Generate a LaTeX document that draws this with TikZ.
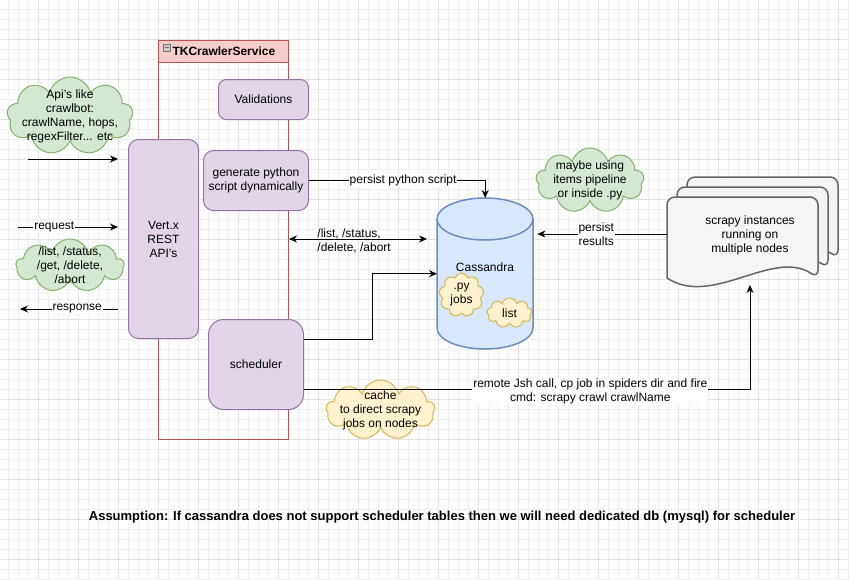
\documentclass[tikz,border=0pt]{standalone}
\usepackage{fontspec}
\setmainfont{Liberation Sans}
\definecolor{boxfill}{HTML}{E1D5E7}
\definecolor{boxline}{HTML}{9673A6}
\definecolor{notefill}{HTML}{D5E8D4}
\definecolor{noteline}{HTML}{82B366}
\definecolor{cachefill}{HTML}{FFF2CC}
\definecolor{cacheline}{HTML}{D6B656}
\definecolor{dbfill}{HTML}{DAE8FC}
\definecolor{dbline}{HTML}{6C8EBF}
\definecolor{svcfill}{HTML}{F8CECC}
\definecolor{svcline}{HTML}{B85450}
\definecolor{docfill}{HTML}{F5F5F5}
\definecolor{docline}{HTML}{666666}
\usetikzlibrary{arrows.meta}
\usetikzlibrary{positioning}
\usetikzlibrary{shapes.symbols}
\tikzset{
    arrow/.style={-{Stealth[length=8pt,width=7pt,inset=2.5pt]}, line width=1pt},
    dblarrow/.style={{Stealth[length=8pt,width=7pt,inset=2.5pt]}-{Stealth[length=8pt,width=7pt,inset=2.5pt]}, line width=1pt},
    box/.style = {
      rectangle,
      rounded corners=10pt,
      draw=boxline,
      fill=boxfill,
      line width=1pt,
      align=center,
      anchor=north west
    },
    note/.style = {
      cloud,
      cloud puffs=9,
      cloud ignores aspect,
      draw=noteline,
      fill=notefill,
      line width=1pt,
      inner sep=0pt
    },
    cachenote/.style = {note, draw=cacheline, fill=cachefill},
    edgelabel/.style = {fill=white, inner sep=1pt, align=center},
    db/.style = {draw=dbline, fill=dbfill, line width=1.5pt},
    doc/.style = {draw=docline, fill=docfill, line width=1.5pt},
    gridminor/.style = {black!6, line width=0.6pt},
    gridmajor/.style = {black!11, line width=0.6pt},
}
\begin{document}
\begin{tikzpicture}[x=1pt, y=-1pt, font=\fontsize{12}{14}\selectfont]
      \fill[white] (0,0) rectangle (849,579);
      \useasboundingbox (0,0) rectangle (849,579);

      % grid
      \foreach \gx in {8,18,...,848} \draw[gridminor] (\gx,0) -- (\gx,579);
      \foreach \gy in {9,19,...,579} \draw[gridminor] (0,\gy) -- (849,\gy);
      \foreach \gx in {38,78,...,838} \draw[gridmajor] (\gx,0) -- (\gx,579);
      \foreach \gy in {39,79,...,559} \draw[gridmajor] (0,\gy) -- (849,\gy);

      % TKCrawlerService container
      \node [
        draw=svcline,
        line width=1pt,
        minimum width=130pt,
        minimum height=377pt,
        anchor=north west,
      ] (servicebody) at (158,62) {};

      \node [
        draw=svcline,
        fill=svcfill,
        line width=1pt,
        minimum width=130pt,
        minimum height=22pt,
        anchor=north west,
        label={[anchor=west, xshift=11pt, font=\fontsize{12}{14}\selectfont\bfseries]west:TKCrawlerService},
      ] (service) at (158,40) {};

      \node [
        draw=black!55,
        fill=black!20,
        line width=0.6pt,
        minimum size=7pt,
        inner sep=0pt,
        path picture={\draw[line width=1pt] ([xshift=1.5pt]path picture bounding box.west) -- ([xshift=-1.5pt]path picture bounding box.east);},
      ] (fold) at (167,47.5) {};

      % boxes
      \node [box, rounded corners=8pt, minimum width=90pt, minimum height=40pt] (validations) at (218,79) {Validations};

      \node [
        box,
        minimum width=105pt,
        minimum height=60pt,
        below=30pt of validations.south east,
        anchor=north east,
      ] (generate) {generate python\\script dynamically};

      \node [box, minimum width=70pt, minimum height=199pt] (vertx) at (128,139) {Vert.x\\REST\\API's};

      \node [box, rounded corners=15pt, minimum width=95pt, minimum height=90pt] (scheduler) at (208,319) {scheduler};

      % Cassandra
      \node [
        minimum width=96pt,
        minimum height=151pt,
        inner sep=0pt,
        anchor=north west,
      ] (cassandra) at (437,198) {};
      \filldraw[db] (437,219) -- (437,328) arc[start angle=180, end angle=360, x radius=48pt, y radius=21pt]
        -- (533,219) arc[start angle=0, end angle=180, x radius=48pt, y radius=21pt] -- cycle;
      \draw[db, fill=none] (437,219) arc[start angle=180, end angle=360, x radius=48pt, y radius=21pt];
      \node (cassandralabel) at (485,267) {Cassandra};

      \node [cachenote, minimum width=45pt, minimum height=44pt,
        label={[align=center]center:.py\\jobs}] (jobs) at (461.5,295) {};
      \node [cachenote, minimum width=45pt, minimum height=30pt,
        label={center:list}] (list) at (509.5,313) {};

      % scrapy instances
      \foreach \d in {20,10,0} {
        \draw[doc] ({667+\d},{278-\d}) [rounded corners=8pt] -- ({667+\d},{197-\d}) -- ({818+\d},{197-\d}) -- ({818+\d},{278-\d})
          [sharp corners] .. controls ({773+\d},{248-\d}) and ({712+\d},{308-\d}) .. ({667+\d},{278-\d}) -- cycle;
      }
      \node [align=center] (scrapy) at (750,235) {scrapy instances\\running on\\multiple nodes};

      % notes
      \node [note, minimum width=126pt, minimum height=78pt,
        label={[align=center]center:Api's like\\crawlbot:\\crawlName, hops,\\regexFilter... etc}] (apinote) at (70,116) {};
      \node [note, minimum width=108pt, minimum height=53pt,
        label={[align=center]center:/list, /status,\\/get, /delete,\\/abort}] (routenote) at (70,265.5) {};
      \node [note, minimum width=108pt, minimum height=65pt,
        label={[align=center]center:maybe using\\items pipeline\\or inside .py}] (pipenote) at (590,180.5) {};
      \node [cachenote, minimum width=109pt, minimum height=60pt,
        label={[align=center]center:cache\\to direct scrapy\\jobs on nodes}] (cachenote) at (380.5,410) {};

      % connectors
      \coordinate (apistart) at (28,159);
      \coordinate (reqstart) at (18,227);
      \coordinate (respend) at (20,309);
      \coordinate (listrow) at (300,239);
      \coordinate (scrapyleft) at (667,234);
      \coordinate (scrapyfoot) at (750,285);

      \draw[arrow, shorten >=10pt] (apistart) -- (apistart -| vertx.west);
      \draw[arrow, shorten >=10pt] (reqstart) -- (reqstart -| vertx.west) node[edgelabel, pos=0.33] {request};
      \draw[arrow, shorten <=10pt] (respend -| vertx.west) -- (respend) node[edgelabel, pos=0.47] {response};

      \draw[arrow] (generate.east) -| (cassandra.north) node[edgelabel, pos=0.267] {persist python script};
      \draw[dblarrow, shorten >=10pt] (servicebody.east |- listrow) -- (cassandra.west |- listrow)
        node[align=left, pos=0.44, yshift=-2pt] {/list, /status,\\/delete, /abort};
      \draw[arrow] ([yshift=25pt]scheduler.east) -- ++(68,0) |- (cassandra.west);
      \draw[arrow] ([yshift=-25pt]scheduler.east) -| (scrapyfoot)
        node[edgelabel, pos=0.321, yshift=-2pt] {remote Jsh call, cp job in spiders dir and fire\\cmd: scrapy crawl crawlName};
      \draw[arrow, shorten >=4pt] (scrapyleft) -- (cassandra.east |- scrapyleft) node[edgelabel, pos=0.53] {persist\\results};

      \node [font=\fontsize{13}{15}\selectfont\bfseries] (assumption) at (442,517) {Assumption: If cassandra does not support scheduler tables then we will need dedicated db (mysql) for scheduler};
    \end{tikzpicture}
\end{document}
